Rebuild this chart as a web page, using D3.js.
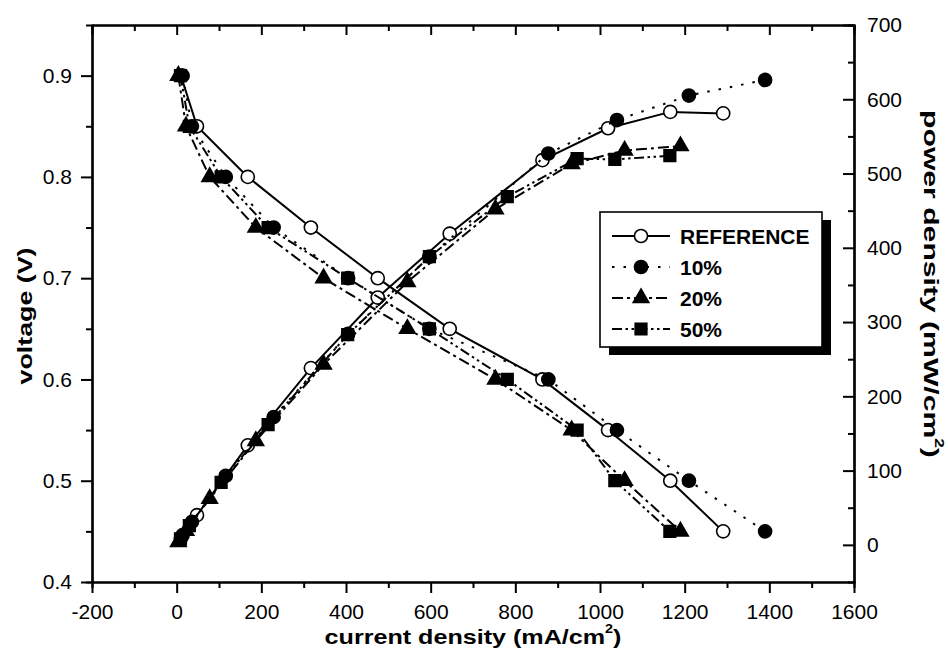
<!DOCTYPE html>
<html>
<head>
<meta charset="utf-8">
<script src="https://cdn.jsdelivr.net/npm/d3@7"></script>
<style>
  body { margin: 0; background: #fff; }
  svg text { font-family: "Liberation Sans", Arial, Helvetica, sans-serif; fill: #000; }
</style>
</head>
<body>
<svg id="chart" width="948" height="659"></svg>
<script>
// values
const voltages = [0.90, 0.85, 0.80, 0.75, 0.70, 0.65, 0.60, 0.55, 0.50, 0.45];

const currentRef = [10, 48, 168, 317, 475, 645, 864, 1019, 1166, 1291];
const current10 = [14, 36, 116, 229, 405, 597, 878, 1040, 1210, 1390];
const current20 = [4, 22, 78, 187, 347, 545, 753, 933, 1058, 1190];
const current50 = [9, 30, 105, 216, 404, 597, 781, 946, 1035, 1165];

const powerRef = [9, 40, 134, 238, 333, 419, 518, 561, 583, 581];
const power10 = [13, 31, 93, 172, 284, 388, 527, 572, 605, 626];
const power20 = [4, 19, 62, 140, 243, 354, 452, 513, 531, 537];
const power50 = [8, 26, 84, 162, 283, 388, 469, 520, 519, 524];

const seriesNames = ["REFERENCE", "10%", "20%", "50%"];

const xMajor = d3.range(-200, 1601, 200);
const xMinor = d3.range(-100, 1600, 200);
const vMajor = [0.4, 0.5, 0.6, 0.7, 0.8, 0.9];
const vMinor = [0.45, 0.55, 0.65, 0.75, 0.85];
const pMajor = [0, 100, 200, 300, 400, 500, 600, 700];
const pMinor = [50, 150, 250, 350, 450, 550, 650];

// layout
const L = 92, R = 854, T = 25, B = 582;

const svg = d3.select("#chart");

const x = d3.scaleLinear().domain([-200, 1600]).range([L, R]);
const yV = d3.scaleLinear().domain([0.4, 0.95]).range([B, T]);
const yP = d3.scaleLinear().domain([-50, 700]).range([B, T]);

const plain = d => String(d);   // keep "-200", no thousands comma

// line / marker styles per series
const styles = [
  { cur: currentRef, pow: powerRef, dash: null, sym: d3.symbolCircle, size: 135, fill: "#fff" },
  { cur: current10, pow: power10, dash: "2.5,9", sym: d3.symbolCircle, size: 135, fill: "#000" },
  { cur: current20, pow: power20, dash: "11,4,3,4", sym: d3.symbolTriangle, size: 105, fill: "#000" },
  { cur: current50, pow: power50, dash: "10,3.5,2.5,3.5,2.5,3.5", sym: d3.symbolSquare, size: 135, fill: "#000" }
];

/* ---------- axes ---------- */
function styleAxis(g) {
  g.attr("font-family", null).attr("font-size", null);
  g.selectAll("path.domain").attr("stroke-width", 2.2);
  g.selectAll(".tick line").attr("stroke-width", 2);
  g.selectAll(".tick text").attr("font-size", 21);
}

// bottom
svg.append("g").attr("transform", `translate(0,${B})`)
  .call(d3.axisBottom(x).tickValues(xMajor).tickSize(11).tickSizeOuter(0).tickPadding(11).tickFormat(plain))
  .call(styleAxis);
svg.append("g").attr("transform", `translate(0,${B})`)
  .call(d3.axisBottom(x).tickValues(xMinor).tickSize(6).tickFormat(""))
  .call(styleAxis);

// top (ticks inward, no labels)
svg.append("g").attr("transform", `translate(0,${T})`)
  .call(d3.axisBottom(x).tickValues(xMajor).tickSize(10).tickSizeOuter(0).tickFormat(""))
  .call(styleAxis);
svg.append("g").attr("transform", `translate(0,${T})`)
  .call(d3.axisBottom(x).tickValues(xMinor).tickSize(6).tickFormat(""))
  .call(styleAxis);

// left voltage
svg.append("g").attr("transform", `translate(${L},0)`)
  .call(d3.axisLeft(yV).tickValues(vMajor).tickSize(11).tickSizeOuter(0).tickPadding(9).tickFormat(d => d.toFixed(1)))
  .call(styleAxis);
svg.append("g").attr("transform", `translate(${L},0)`)
  .call(d3.axisLeft(yV).tickValues(vMinor).tickSize(6).tickFormat(""))
  .call(styleAxis);

// right power (ticks point into the plot)
svg.append("g").attr("transform", `translate(${R},0)`)
  .call(d3.axisRight(yP).tickValues(pMajor).tickSize(-11).tickSizeOuter(0).tickPadding(13).tickFormat(plain))
  .call(styleAxis);
svg.append("g").attr("transform", `translate(${R},0)`)
  .call(d3.axisRight(yP).tickValues(pMinor).tickSize(-6).tickFormat(""))
  .call(styleAxis);

/* ---------- curves ---------- */
const lineV = d3.line().x(d => x(d[0])).y(d => yV(d[1]));
const lineP = d3.line().x(d => x(d[0])).y(d => yP(d[1]));

const plot = svg.append("g");

styles.forEach((s, k) => {
  const vPts = s.cur.map((c, i) => [c, voltages[i]]);
  const pPts = s.cur.map((c, i) => [c, s.pow[i]]);
  const g = plot.append("g").attr("class", "series-" + k);

  [[vPts, lineV], [pPts, lineP]].forEach(([pts, ln]) => {
    g.append("path")
      .attr("d", ln(pts))
      .attr("fill", "none")
      .attr("stroke", "#000")
      .attr("stroke-width", 2)
      .attr("stroke-dasharray", s.dash);
  });

  const sym = d3.symbol().type(s.sym).size(s.size);
  g.selectAll("path.mv")
    .data(vPts)
    .enter()
    .append("path")
    .attr("class", "mv")
    .attr("d", sym)
    .attr("transform", d => `translate(${x(d[0])},${yV(d[1])})`)
    .attr("fill", s.fill)
    .attr("stroke", "#000")
    .attr("stroke-width", 1.6);
  g.selectAll("path.mp")
    .data(pPts)
    .enter()
    .append("path")
    .attr("class", "mp")
    .attr("d", sym)
    .attr("transform", d => `translate(${x(d[0])},${yP(d[1])})`)
    .attr("fill", s.fill)
    .attr("stroke", "#000")
    .attr("stroke-width", 1.6);
});

/* ---------- legend ---------- */
const lg = svg.append("g").attr("transform", "translate(600,212)");
lg.append("rect").attr("x", 9).attr("y", 8).attr("width", 222).attr("height", 135).attr("fill", "#000");
lg.append("rect").attr("x", 0).attr("y", 0).attr("width", 222).attr("height", 135)
  .attr("fill", "#fff").attr("stroke", "#000").attr("stroke-width", 1.6);

seriesNames.forEach((name, i) => {
  const s = styles[i];
  const cy = 24 + i * 31;
  lg.append("line")
    .attr("x1", 12).attr("x2", 70).attr("y1", cy).attr("y2", cy)
    .attr("stroke", "#000").attr("stroke-width", 2)
    .attr("stroke-dasharray", s.dash);
  lg.append("path")
    .attr("d", d3.symbol().type(s.sym).size(s.size)())
    .attr("transform", `translate(41,${cy})`)
    .attr("fill", s.fill).attr("stroke", "#000").attr("stroke-width", 1.6);
  lg.append("text")
    .attr("x", 80).attr("y", cy + 7.5)
    .attr("font-size", 21).attr("font-weight", "bold")
    .text(name);
});

/* ---------- axis titles ---------- */
function stretchTo(sel, target, base) {
  const w = sel.node().getBBox().width;
  sel.attr("transform", `${base} scale(${target / w},1)`);
}

const xTitle = svg.append("text")
  .attr("text-anchor", "middle")
  .attr("font-size", 21).attr("font-weight", "bold");
xTitle.append("tspan").text("current density (mA/cm");
xTitle.append("tspan").attr("font-size", 12).attr("dy", -11).text("2");
xTitle.append("tspan").attr("dy", 11).text(")");
stretchTo(xTitle, 297, "translate(473,644)");

const vTitle = svg.append("text")
  .attr("text-anchor", "middle")
  .attr("font-size", 21).attr("font-weight", "bold")
  .text("voltage (V)");
stretchTo(vTitle, 137, "translate(32,316) rotate(-90)");

const pTitle = svg.append("text")
  .attr("text-anchor", "middle")
  .attr("font-size", 21).attr("font-weight", "bold");
pTitle.append("tspan").text("power density (mW/cm");
pTitle.append("tspan").attr("font-size", 12).attr("dy", -11).text("2");
pTitle.append("tspan").attr("dy", 11).text(")");
stretchTo(pTitle, 348, "translate(924,284) rotate(90)");
</script>
</body>
</html>
